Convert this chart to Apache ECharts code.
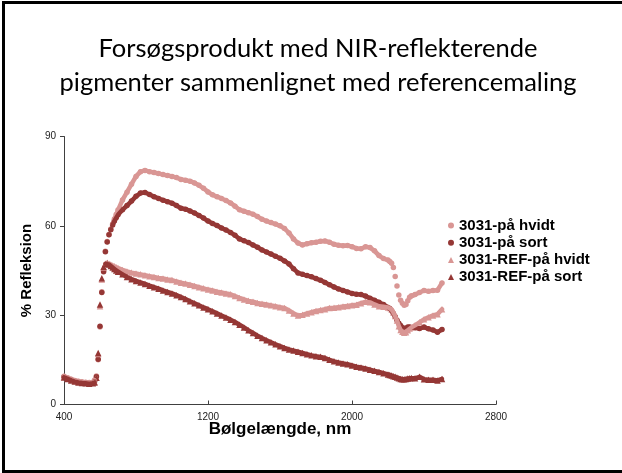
<!DOCTYPE html>
<html>
<head>
<meta charset="utf-8">
<script src="https://cdn.jsdelivr.net/npm/echarts@6/dist/echarts.min.js"></script>
<style>
  html, body { margin: 0; padding: 0; background: #fff; }
  #chart { width: 622px; height: 473px; }
</style>
</head>
<body>
<div id="chart"></div>
<script>
// wavelengths (nm)
var wl = [400,420,440,460,480,500,520,540,560,
  570,580,590,600,610,620,630,640,650,660,670,680,690,700,
  725,750,775,800,825,850,875,900,925,950,975,1000,
  1025,1050,1075,1100,1125,1150,1175,1200,1225,1250,1275,1300,1325,1350,1375,1400,
  1425,1450,1475,1500,1525,1550,1575,1600,1625,1650,1675,1700,1725,1750,1775,1800,
  1825,1850,1875,1900,1925,1950,1975,2000,2025,2050,2075,2100,2125,2150,2175,2200,
  2210,2220,2230,2240,2250,2260,2270,2280,2290,2300,2310,2320,2330,
  2350,2375,2400,2425,2450,2475,2500];

var paaHvidt = [9.5,9.0,8.5,8.1,7.8,7.6,7.5,7.4,7.5,
  8.2,9.6,15.0,26.0,37.9,44.9,51.5,54.7,57.1,58.9,60.6,62.3,63.8,65.3,
  68.7,71.3,74.0,76.6,78.2,78.6,78.2,77.9,77.6,77.2,76.9,76.6,
  76.2,75.6,75.3,75.0,74.4,73.6,72.6,71.4,70.4,69.8,69.2,68.5,67.7,66.6,65.4,64.9,
  64.4,63.9,63.1,62.2,61.6,61.1,60.6,60.0,59.1,57.6,55.6,54.2,53.6,54.0,54.3,54.5,
  54.8,54.9,54.5,53.8,53.5,53.3,53.4,53.0,52.4,52.3,53.0,52.7,51.6,50.0,49.0,48.5,
  48.0,47.4,46.0,43.0,39.8,36.8,35.0,34.0,33.3,33.6,34.8,36.0,36.5,
  36.9,37.6,38.3,38.0,38.3,38.4,40.8];

var paaSort = [9.2,8.7,8.2,7.8,7.5,7.3,7.2,7.1,7.2,
  7.8,9.3,15.2,26.3,37.6,44.6,51.3,54.6,57.0,58.7,60.3,61.6,62.7,63.7,
  65.4,66.8,68.3,69.9,71.0,71.2,70.5,69.8,69.2,68.6,68.1,67.6,
  66.8,65.9,65.6,65.0,64.3,63.5,62.6,61.6,60.8,60.1,59.3,58.6,57.8,56.8,55.6,55.0,
  54.4,53.6,52.8,51.9,51.2,50.5,49.8,49.1,48.2,47.2,45.6,44.2,43.7,43.3,42.9,42.3,
  41.7,41.0,40.2,39.5,38.8,38.3,37.8,37.3,37.0,36.9,36.4,35.7,35.0,34.3,33.6,32.6,
  32.2,31.5,30.6,29.5,28.3,27.3,26.5,25.8,25.5,25.6,26.0,26.0,25.8,
  25.8,25.5,26.0,25.4,25.0,24.3,25.2];

var refHvidt = [9.4,8.8,8.3,7.9,7.6,7.4,7.3,7.2,7.3,
  7.6,9.0,17.0,33.0,42.0,46.0,47.3,47.6,47.3,47.0,46.7,46.4,46.1,45.8,
  45.2,44.7,44.3,44.0,43.7,43.4,43.1,42.8,42.5,42.3,42.0,41.8,
  41.3,40.9,40.6,40.2,39.8,39.4,39.0,38.6,38.3,37.9,37.6,37.3,37.0,36.4,35.8,35.3,
  34.8,34.5,34.1,33.8,33.6,33.3,33.0,32.7,32.4,31.6,30.6,29.9,30.1,30.6,31.0,31.4,
  31.7,32.0,32.4,32.5,32.7,32.9,33.1,33.3,33.5,34.0,34.5,34.3,33.6,33.0,32.8,32.6,
  32.4,31.9,30.9,29.7,28.2,26.3,25.0,24.4,24.1,24.3,24.9,25.5,25.9,
  26.6,27.6,28.6,29.3,29.9,30.3,32.0];

var refSort = [9.1,8.6,8.1,7.7,7.4,7.2,7.1,7.0,7.1,
  7.4,9.0,17.3,33.6,42.4,46.3,47.2,47.4,47.0,46.5,46.0,45.5,45.0,44.6,
  43.7,42.8,42.1,41.5,41.0,40.5,39.9,39.4,38.9,38.3,37.8,37.3,
  36.7,36.1,35.4,34.7,34.0,33.3,32.6,32.0,31.3,30.6,29.9,29.2,28.5,27.7,26.8,25.9,
  24.9,24.0,23.1,22.3,21.6,20.9,20.2,19.6,19.0,18.5,18.1,17.7,17.3,16.9,16.5,16.2,
  16.0,15.6,15.0,14.5,14.1,13.8,13.5,13.1,12.7,12.4,12.1,11.7,11.3,10.9,10.5,10.1,
  9.9,9.7,9.5,9.3,9.1,8.8,8.6,8.5,8.5,8.6,8.7,8.8,8.9,
  8.8,9.3,8.5,8.3,8.3,8.1,8.6];

var xTicks = [400, 1200, 2000, 2800];
var yTicks = [0, 30, 60, 90];

var titleLines = ['Forsøgsprodukt med NIR-reflekterende', 'pigmenter sammenlignet med referencemaling'];

var LIGHT = '#D99694';
var DARK = '#953735';

function pairs(vals) {
  var out = [];
  for (var i = 0; i < wl.length; i++) {
    out.push([wl[i], vals[i]]);
  }
  return out;
}

// same points, with gaps where the markers stand apart (steep parts)
function bandPairs(vals, gaps) {
  var out = [];
  for (var i = 0; i < wl.length; i++) {
    var inGap = false;
    for (var g = 0; g < gaps.length; g++) {
      if (wl[i] > gaps[g][0] && wl[i] < gaps[g][1]) inGap = true;
    }
    out.push([wl[i], inGap ? '-' : vals[i]]);
  }
  return out;
}

function band(name, vals, color, gaps) {
  return {
    name: name + ' (band)',
    type: 'line',
    xAxisIndex: 0,
    data: bandPairs(vals, gaps),
    showSymbol: false,
    connectNulls: false,
    lineStyle: {color: color, width: 4.5, cap: 'round', join: 'round'},
    silent: true,
    animation: false
  };
}

function scatter(name, vals, symbol, color) {
  return {
    name: name,
    type: 'scatter',
    xAxisIndex: 0,
    data: pairs(vals),
    symbol: symbol,
    symbolSize: symbol == 'triangle' ? 6.5 : 5.5,
    itemStyle: {color: color, opacity: 1},
    silent: true,
    animation: false
  };
}

var myChart = echarts.init(document.getElementById('chart'), null, {renderer: 'canvas'});

var xStep = xTicks[1] - xTicks[0];

var option = {
  backgroundColor: '#fff',
  animation: false,
  textStyle: {fontFamily: 'Liberation Sans, Arial, sans-serif'},
  graphic: [
    {type: 'polyline', shape: {points: [[3.5, 473], [3.5, 2.5], [622, 2.5]]},
      style: {stroke: '#000', lineWidth: 3, fill: null}},
    {type: 'line', shape: {x1: 2, y1: 471.5, x2: 622, y2: 471.5},
      style: {stroke: '#000', lineWidth: 3}},
    {type: 'text', x: 318, y: 49, style: {text: titleLines[0], fill: '#000',
      font: '25.5px Lato', align: 'center', verticalAlign: 'middle'}},
    {type: 'text', x: 318, y: 82.5, style: {text: titleLines[1], fill: '#000',
      font: '25.5px Lato', align: 'center', verticalAlign: 'middle'}}
  ],
  grid: {left: 64, right: 126, top: 136.5, bottom: 68.5, containLabel: false},
  legend: {
    orient: 'vertical',
    left: 448,
    top: 218,
    padding: 0,
    itemWidth: 6,
    itemHeight: 6,
    itemGap: 2.2,
    textStyle: {fontSize: 15, fontWeight: 'bold', color: '#000', lineHeight: 15,
      fontFamily: 'Liberation Sans, Arial, sans-serif'},
    data: ['3031-på hvidt', '3031-på sort', '3031-REF-på hvidt', '3031-REF-på sort']
  },
  xAxis: [
    {
      type: 'value',
      min: xTicks[0],
      max: xTicks[xTicks.length - 1],
      show: false
    },
    {
      // display axis, counted from 0 so the ticks land on 400/1200/2000/2800
      type: 'value',
      position: 'bottom',
      min: 0,
      max: xTicks[xTicks.length - 1] - xTicks[0],
      interval: xStep,
      name: 'Bølgelængde, nm',
      nameLocation: 'middle',
      nameGap: 16,
      nameMoveOverlap: false,
      nameTextStyle: {fontSize: 17, fontWeight: 'bold', color: '#000', verticalAlign: 'top'},
      axisLine: {show: true, lineStyle: {color: '#404040', width: 1}},
      axisTick: {show: true, inside: true, length: 4, lineStyle: {color: '#404040'}},
      axisLabel: {fontSize: 10, color: '#222', margin: 8,
        formatter: function (v) { return String(v + xTicks[0]); }},
      splitLine: {show: false}
    }
  ],
  yAxis: {
    type: 'value',
    min: yTicks[0],
    max: yTicks[yTicks.length - 1],
    interval: yTicks[1] - yTicks[0],
    name: '% Refleksion',
    nameLocation: 'middle',
    nameGap: 22,
    nameTextStyle: {fontSize: 15, fontWeight: 'bold', color: '#000'},
    axisLine: {show: true, lineStyle: {color: '#404040', width: 1}},
    axisTick: {show: true, length: 4, lineStyle: {color: '#404040'}},
    axisLabel: {fontSize: 10, color: '#222', margin: 8},
    splitLine: {show: false}
  },
  series: [
    band('3031-på hvidt', paaHvidt, LIGHT, [[570, 670], [2225, 2315]]),
    scatter('3031-på hvidt', paaHvidt, 'circle', LIGHT),
    band('3031-på sort', paaSort, DARK, [[570, 670]]),
    scatter('3031-på sort', paaSort, 'circle', DARK),
    band('3031-REF-på hvidt', refHvidt, LIGHT, [[570, 630]]),
    scatter('3031-REF-på hvidt', refHvidt, 'triangle', LIGHT),
    band('3031-REF-på sort', refSort, DARK, [[570, 630]]),
    scatter('3031-REF-på sort', refSort, 'triangle', DARK)
  ]
};

option && myChart.setOption(option);
</script>
</body>
</html>
